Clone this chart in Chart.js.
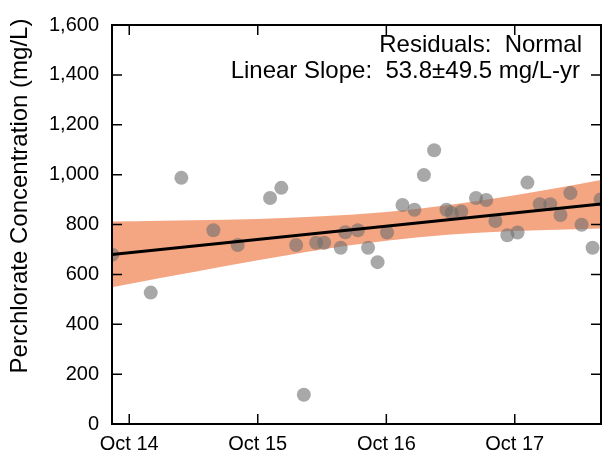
<!DOCTYPE html>
<html>
<head>
<meta charset="utf-8">
<script src="https://cdn.jsdelivr.net/npm/chart.js@4"></script>
<style>
  html, body { margin: 0; padding: 0; background: #fff; }
</style>
</head>
<body>
<canvas id="chart" width="608" height="458"></canvas>
<script>
// sample dates and perchlorate results (mg/L)
const sampleDates = [
    '2014-08-14', '2014-12-01', '2015-02-26', '2015-05-28', '2015-08-05', '2015-11-05',
    '2015-12-07', '2016-01-18', '2016-02-09', '2016-03-15', '2016-04-07', '2016-05-24',
    '2016-06-06', '2016-07-12', '2016-08-10', '2016-09-06', '2016-10-03', '2016-11-16',
    '2016-12-20', '2017-01-16', '2017-02-14', '2017-03-21', '2017-04-05', '2017-05-02',
    '2017-06-13', '2017-07-12', '2017-08-07', '2017-09-10', '2017-10-09', '2017-11-06',
    '2017-12-11', '2018-01-10', '2018-02-08', '2018-03-08', '2018-04-09', '2018-05-10',
    '2018-06-02'
];
const sampleValues = [
    679, 527, 987, 777, 718, 906,
    947, 718, 117, 727, 727, 707,
    769, 777, 707, 649, 768, 878,
    859, 998, 1098, 859, 846, 852,
    906, 898, 814, 757, 768, 968,
    881, 881, 838, 926, 799, 707,
    900
];

// fitted trend line and its confidence band
const trendDates = ['2014-08-13', '2018-06-03'];
const trendValues = [680, 882];
const bandDates = ['2014-08-13', '2015-01-01', '2015-07-02', '2016-01-01', '2016-07-01',
                   '2017-01-01', '2017-07-02', '2018-01-01', '2018-06-03'];
const bandUpper = [812, 815, 819, 827, 840, 863, 897, 939, 978];
const bandLower = [548, 586, 634, 679, 719, 749, 768, 778, 784];

const xTickDates = ['2014-10-01', '2015-10-01', '2016-10-01', '2017-10-01'];
const xTickLabels = ['Oct 14', 'Oct 15', 'Oct 16', 'Oct 17'];
const xRange = ['2014-08-13', '2018-06-03'];
const yTicks = [0, 200, 400, 600, 800, 1000, 1200, 1400, 1600];

const annotationLines = ['Residuals:  Normal', 'Linear Slope:  53.8\u00b149.5 mg/L-yr'];
const yTitle = 'Perchlorate Concentration (mg/L)';

const FONT = "'Liberation Sans', Arial, sans-serif";

// date string -> decimal year
function toYear(s) {
    const d = new Date(s + 'T00:00:00Z');
    const y = d.getUTCFullYear();
    const start = Date.UTC(y, 0, 1);
    const end = Date.UTC(y + 1, 0, 1);
    return y + (d.getTime() - start) / (end - start);
}

const pts = (dates, vals) => dates.map((d, i) => ({ x: toYear(d), y: vals[i] }));
const xTickValues = xTickDates.map(toYear);

// frame, inward ticks, y title and the text box
const decor = {
    id: 'decor',
    afterDatasetsDraw(chart) {
        const ctx = chart.ctx;
        const a = chart.chartArea;
        const xs = chart.scales.x, ys = chart.scales.y;
        ctx.save();
        ctx.strokeStyle = '#000';
        ctx.lineWidth = 1.5;
        ctx.beginPath();
        xTickValues.forEach(v => {
            const px = xs.getPixelForValue(v);
            ctx.moveTo(px, a.bottom); ctx.lineTo(px, a.bottom - 10);
            ctx.moveTo(px, a.top); ctx.lineTo(px, a.top + 10);
        });
        yTicks.forEach(v => {
            const py = ys.getPixelForValue(v);
            ctx.moveTo(a.left, py); ctx.lineTo(a.left + 10, py);
            ctx.moveTo(a.right, py); ctx.lineTo(a.right - 10, py);
        });
        ctx.stroke();
        ctx.lineWidth = 2;
        ctx.strokeRect(a.left, a.top, a.right - a.left, a.bottom - a.top);

        ctx.fillStyle = '#000';
        ctx.font = '24px ' + FONT;
        ctx.textAlign = 'right';
        ctx.textBaseline = 'alphabetic';
        ctx.fillText(annotationLines[0], 582, 52);
        ctx.fillText(annotationLines[1], 580, 78);

        ctx.translate(20, 196);
        ctx.rotate(-Math.PI / 2);
        ctx.textAlign = 'center';
        ctx.textBaseline = 'middle';
        ctx.fillText(yTitle, 0, 0);
        ctx.restore();
    }
};

new Chart(document.getElementById('chart'), {
    type: 'scatter',
    data: {
        datasets: [
            {
                label: 'trend',
                type: 'line',
                data: pts(trendDates, trendValues),
                borderColor: '#000',
                borderWidth: 3,
                pointRadius: 0,
                order: 0
            },
            {
                label: 'samples',
                data: pts(sampleDates, sampleValues),
                backgroundColor: 'rgba(110,110,110,0.6)',
                borderWidth: 0,
                pointRadius: 7,
                order: 1
            },
            {
                label: 'upper',
                type: 'line',
                data: pts(bandDates, bandUpper),
                borderWidth: 0,
                borderColor: 'rgba(0,0,0,0)',
                pointRadius: 0,
                cubicInterpolationMode: 'monotone',
                fill: false,
                order: 3
            },
            {
                label: 'lower',
                type: 'line',
                data: pts(bandDates, bandLower),
                borderWidth: 0,
                borderColor: 'rgba(0,0,0,0)',
                pointRadius: 0,
                cubicInterpolationMode: 'monotone',
                backgroundColor: '#f4a582',
                fill: '-1',
                order: 2
            }
        ]
    },
    options: {
        responsive: false,
        animation: false,
        layout: { padding: { top: 14, right: 1, left: 0, bottom: 0 } },
        plugins: {
            legend: { display: false },
            tooltip: { enabled: false }
        },
        scales: {
            x: {
                type: 'linear',
                min: toYear(xRange[0]),
                max: toYear(xRange[1]),
                grid: { display: false, drawTicks: false },
                border: { display: false },
                afterBuildTicks: (scale) => {
                    scale.ticks = xTickValues.map(v => ({ value: v }));
                },
                afterFit: (scale) => { scale.height = 34; },
                ticks: {
                    color: '#000',
                    font: { family: FONT, size: 20 },
                    padding: 8,
                    maxRotation: 0,
                    autoSkip: false,
                    callback: (v) => {
                        const i = xTickValues.findIndex(t => Math.abs(t - v) < 1e-6);
                        return i >= 0 ? xTickLabels[i] : '';
                    }
                }
            },
            y: {
                min: 0,
                max: 1600,
                grid: { display: false, drawTicks: false },
                border: { display: false },
                afterBuildTicks: (scale) => {
                    scale.ticks = yTicks.map(v => ({ value: v }));
                },
                afterFit: (scale) => { scale.width = 112; },
                ticks: {
                    color: '#000',
                    font: { family: FONT, size: 20 },
                    padding: 13,
                    callback: (v) => v.toLocaleString('en-US')
                }
            }
        }
    },
    plugins: [decor]
});
</script>
</body>
</html>
